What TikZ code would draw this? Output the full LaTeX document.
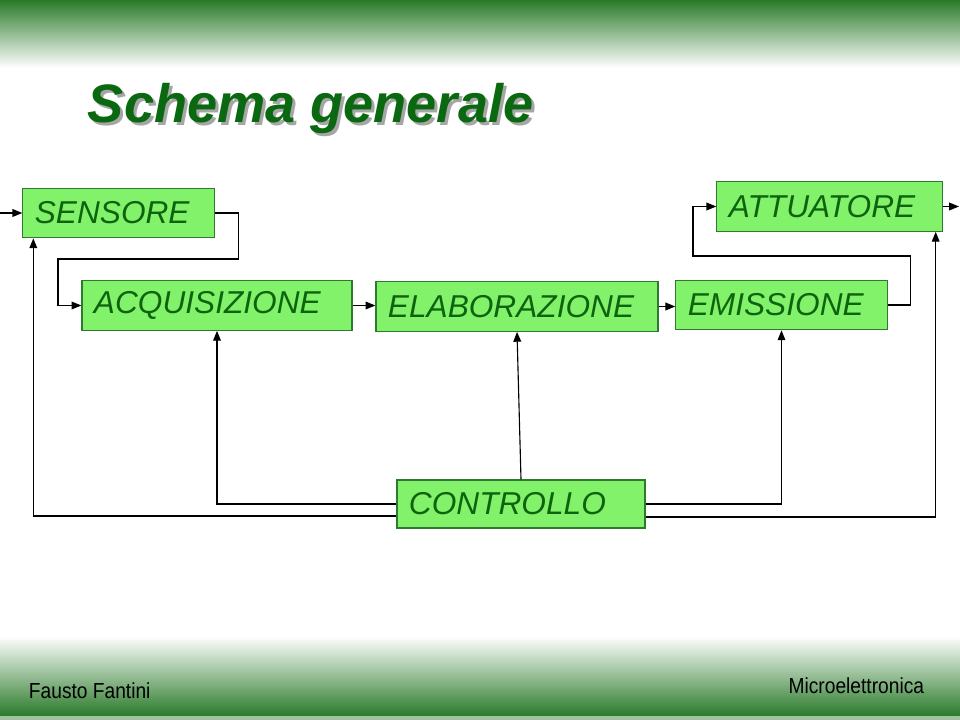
\documentclass[tikz,border=0pt]{standalone}
\usepackage{fontspec}
\setmainfont{Liberation Sans}
\usepackage{graphicx}
\usepackage{tikz}
\usetikzlibrary{arrows.meta, positioning, calc}
\definecolor{kband}{HTML}{2A7A2A}
\definecolor{kfill}{HTML}{82F26A}
\definecolor{kedge}{HTML}{2E7A30}
\definecolor{ktext}{HTML}{0E640E}
\definecolor{ktitle}{HTML}{0A6810}

\begin{document}
\begin{tikzpicture}[x=0.025cm, y=-0.025cm,
  blockbox/.style={draw=kedge, fill=kfill, line width=0.8pt, inner xsep=0.3cm, inner ysep=0pt,
    text width=#1, align=left, minimum height=1.24cm, text=ktext,
    font=\fontsize{22.5}{27}\selectfont\itshape},
  wire/.style={line width=0.8pt, -{Triangle[length=7pt, width=5.5pt]}}]
\useasboundingbox (0,0) rectangle (960,720);
% bande sfumate
\fill[white] (0,0) rectangle (960,720);
\shade[top color=kband, bottom color=white] (0,0) rectangle (960,68);
\shade[top color=white, bottom color=kband] (0,636) rectangle (960,716);
\fill[kband!45!white] (0,716) rectangle (960,720);
% titolo
\node[anchor=base west, text=black!35, font=\fontsize{38.5}{44}\selectfont\bfseries\itshape]
  at (86,126) {Schema generale};
\node[anchor=base west, text=ktitle, font=\fontsize{38.5}{44}\selectfont\bfseries\itshape]
  (title) at (83,123) {Schema generale};
% blocchi
\node[blockbox=4.18cm] (sens) at (118.5,213) {SENSORE};
\node[blockbox=6.15cm] (acq) at (217,305.5) {ACQUISIZIONE};
\node[blockbox=6.45cm] (elab) at (517,306.5) {ELABORAZIONE};
\node[blockbox=4.68cm] (emis) at (781.5,305) {EMISSIONE};
\node[blockbox=5.03cm] (att) at (829.5,206.5) {ATTUATORE};
\node[blockbox=5.6cm, minimum height=1.2cm] (ctrl) at (521,504) {CONTROLLO};
\coordinate (in) at (0,213);
\coordinate (out) at (959,206.5);
% catena diretta
\draw[wire] (in) -- (sens.west);
\draw[wire] (sens.east) -- ++(24,0) |- (58,259) |- (acq.west);
\draw[wire] (acq.east) -- (acq.east -| elab.west);
\draw[wire] (elab.east) -- (elab.east -| emis.west);
\draw[wire] (emis.east) -- ++(23,0) |- (693,256) |- (att.west);
\draw[wire] (att.east) -- (out);
% controllo
\draw[wire] (ctrl.north) -- (elab.south);
\draw[wire] (ctrl.west) -| (acq.south);
\draw[wire] ($(ctrl.west)+(0,12)$) -| ($(sens.south west)+(11,0)$);
\draw[wire] (ctrl.east) -| (emis.south);
\draw[wire] ($(ctrl.east)+(0,13)$) -| ($(att.south east)+(-7,0)$);
% pie' di pagina
\node[anchor=base west, font=\fontsize{15.5}{18}\selectfont] (auth) at (24,698)
  {\scalebox{0.88}[1]{Fausto Fantini}};
\node[anchor=base east, font=\fontsize{15.5}{18}\selectfont] (course) at (929,693)
  {\scalebox{0.88}[1]{Microelettronica}};
\end{tikzpicture}
\end{document}
